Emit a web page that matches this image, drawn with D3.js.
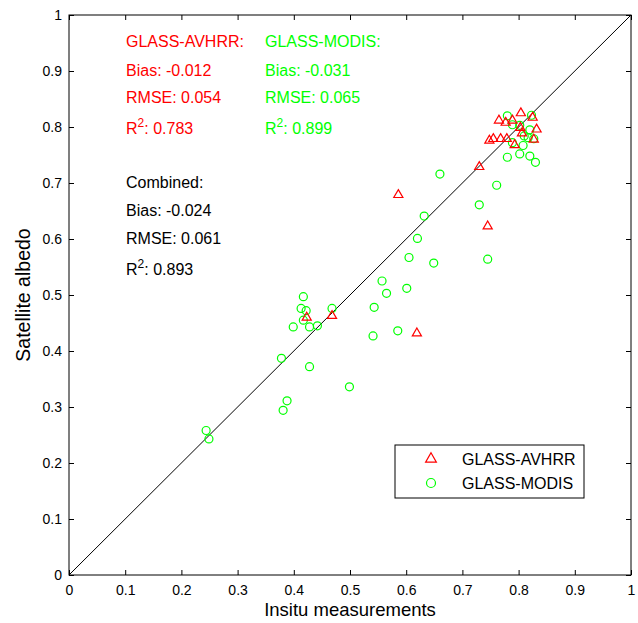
<!DOCTYPE html>
<html>
<head>
<meta charset="utf-8">
<script src="https://cdn.jsdelivr.net/npm/d3@7"></script>
<style>
  body { margin: 0; background: #fff; }
  svg { display: block; font-family: "Liberation Sans", Arial, sans-serif; }
</style>
</head>
<body>
<svg id="viz"></svg>
<script>
var width = 638;
var height = 623;

// GLASS-AVHRR (red triangles)
var avhrrX = [0.423, 0.468, 0.586, 0.619, 0.730, 0.745, 0.748, 0.755, 0.768, 0.779,
              0.765, 0.777, 0.789, 0.804, 0.825, 0.803, 0.832, 0.806, 0.793, 0.827];
var avhrrY = [0.458, 0.461, 0.677, 0.430, 0.727, 0.621, 0.774, 0.777, 0.777, 0.777,
              0.810, 0.806, 0.810, 0.823, 0.815, 0.797, 0.794, 0.787, 0.766, 0.776];

// GLASS-MODIS (green circles)
var modisX = [0.244, 0.249, 0.381, 0.388, 0.428, 0.378, 0.499, 0.399, 0.417, 0.428,
              0.442, 0.413, 0.422, 0.417, 0.468, 0.541, 0.585, 0.543, 0.565, 0.557,
              0.601, 0.605, 0.649, 0.620, 0.632, 0.660, 0.730, 0.745, 0.761, 0.780,
              0.802, 0.820, 0.830, 0.789, 0.808, 0.817, 0.827, 0.789, 0.802, 0.820,
              0.780, 0.823, 0.810];
var modisY = [0.258, 0.243, 0.294, 0.311, 0.372, 0.387, 0.336, 0.443, 0.455, 0.443,
              0.445, 0.476, 0.472, 0.497, 0.476, 0.427, 0.436, 0.478, 0.503, 0.525,
              0.512, 0.567, 0.557, 0.601, 0.641, 0.716, 0.661, 0.564, 0.696, 0.746,
              0.752, 0.748, 0.737, 0.772, 0.767, 0.781, 0.779, 0.804, 0.803, 0.795,
              0.820, 0.821, 0.784];

var tickValues = [0, 0.1, 0.2, 0.3, 0.4, 0.5, 0.6, 0.7, 0.8, 0.9, 1];
var tickLabels = ["0", "0.1", "0.2", "0.3", "0.4", "0.5", "0.6", "0.7", "0.8", "0.9", "1"];

var seriesNames = ["GLASS-AVHRR", "GLASS-MODIS"];
var seriesColors = ["#ff0000", "#00ff00"];

// stats text: [label, bias, rmse, r2]
var avhrrStats = ["GLASS-AVHRR:", "-0.012", "0.054", "0.783"];
var modisStats = ["GLASS-MODIS:", "-0.031", "0.065", "0.899"];
var combinedStats = ["Combined:", "-0.024", "0.061", "0.893"];

var svg = d3.select("#viz").attr("width", width).attr("height", height);

var x = d3.scaleLinear().domain([0, 1]).range([69, 631]);
var y = d3.scaleLinear().domain([0, 1]).range([575, 15]);

var fmt = function (d) { return tickLabels[tickValues.indexOf(d)]; };

// axes, ticks pointing inward
svg.append("g")
    .attr("transform", "translate(0,575)")
    .call(d3.axisBottom(x).tickValues(tickValues).tickFormat(fmt)
        .tickSizeInner(-5).tickSizeOuter(0).tickPadding(10));
svg.append("g")
    .attr("transform", "translate(69,0)")
    .call(d3.axisLeft(y).tickValues(tickValues).tickFormat(fmt)
        .tickSizeInner(-5).tickSizeOuter(0).tickPadding(7));
svg.append("g")
    .attr("transform", "translate(0,15)")
    .call(d3.axisTop(x).tickValues(tickValues).tickFormat("")
        .tickSizeInner(-5).tickSizeOuter(0));
svg.append("g")
    .attr("transform", "translate(631,0)")
    .call(d3.axisRight(y).tickValues(tickValues).tickFormat("")
        .tickSizeInner(-5).tickSizeOuter(0));

svg.selectAll(".domain").remove();
svg.selectAll(".tick text")
    .attr("font-size", 14)
    .attr("font-family", "Liberation Sans, Arial, sans-serif")
    .attr("fill", "#000");
svg.selectAll(".tick line").attr("stroke", "#000");

svg.append("rect")
    .attr("x", x(0)).attr("y", y(1))
    .attr("width", x(1) - x(0)).attr("height", y(0) - y(1))
    .attr("fill", "none").attr("stroke", "#000").attr("stroke-width", 1);

// 1:1 line
svg.append("line")
    .attr("x1", x(0)).attr("y1", y(0))
    .attr("x2", x(1)).attr("y2", y(1))
    .attr("stroke", "#000").attr("stroke-width", 1);

// axis titles
svg.append("text")
    .attr("x", (x(0) + x(1)) / 2).attr("y", 616)
    .attr("text-anchor", "middle").attr("font-size", 18.5)
    .text("Insitu measurements");
svg.append("text")
    .attr("transform", "translate(30," + (y(0) + y(1)) / 2 + ") rotate(-90)")
    .attr("text-anchor", "middle").attr("font-size", 19.5)
    .text("Satellite albedo");

var tri = d3.symbol().type(d3.symbolTriangle).size(36);

// points
svg.append("g")
    .selectAll("circle")
    .data(d3.range(modisX.length))
    .enter().append("circle")
        .attr("cx", function (i) { return x(modisX[i]); })
        .attr("cy", function (i) { return y(modisY[i]); })
        .attr("r", 4)
        .attr("fill", "none")
        .attr("stroke", seriesColors[1])
        .attr("stroke-width", 1.2);

svg.append("g")
    .selectAll("path")
    .data(d3.range(avhrrX.length))
    .enter().append("path")
        .attr("d", tri)
        .attr("transform", function (i) {
            return "translate(" + x(avhrrX[i]) + "," + (y(avhrrY[i]) - 1) + ")";
        })
        .attr("fill", "none")
        .attr("stroke", seriesColors[0])
        .attr("stroke-width", 1.2);

// stats blocks
function statBlock(stats, tx, baselines, color) {
    var g = svg.append("g").attr("fill", color).attr("font-size", 16);
    g.append("text").attr("x", tx).attr("y", baselines[0]).text(stats[0]);
    g.append("text").attr("x", tx).attr("y", baselines[1]).text("Bias: " + stats[1]);
    g.append("text").attr("x", tx).attr("y", baselines[2]).text("RMSE: " + stats[2]);
    var r = g.append("text").attr("x", tx).attr("y", baselines[3]);
    r.append("tspan").text("R");
    r.append("tspan").attr("font-size", 12).attr("dy", -7).text("2");
    r.append("tspan").attr("dy", 7).text(": " + stats[3]);
}

statBlock(avhrrStats, 126, [47, 76, 103, 134], seriesColors[0]);
statBlock(modisStats, 265, [47, 76, 103, 134], seriesColors[1]);
statBlock(combinedStats, 126, [188, 216, 244, 275], "#000");

// legend
var legend = svg.append("g");
legend.append("rect")
    .attr("x", 395).attr("y", 445).attr("width", 189).attr("height", 53)
    .attr("fill", "#fff").attr("stroke", "#000").attr("stroke-width", 1);
legend.append("path")
    .attr("d", d3.symbol().type(d3.symbolTriangle).size(50))
    .attr("transform", "translate(431,459)")
    .attr("fill", "none").attr("stroke", seriesColors[0]).attr("stroke-width", 1.2);
legend.append("circle")
    .attr("cx", 431).attr("cy", 483).attr("r", 4.5)
    .attr("fill", "none").attr("stroke", seriesColors[1]).attr("stroke-width", 1.2);
legend.selectAll("text")
    .data(seriesNames)
    .enter().append("text")
        .attr("x", 462)
        .attr("y", function (d, i) { return 465 + i * 24; })
        .attr("font-size", 16)
        .text(function (d) { return d; });
</script>
</body>
</html>
